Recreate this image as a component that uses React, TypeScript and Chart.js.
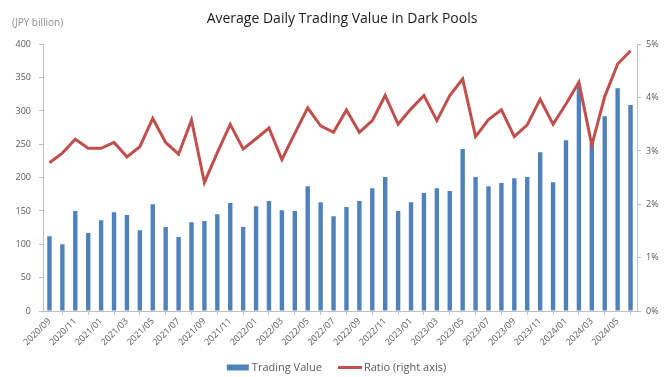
import React, { useEffect, useRef } from "react";
import { Chart, registerables } from "chart.js";

Chart.register(...registerables);

const months = [
  "2020/09", "2020/10", "2020/11", "2020/12",
  "2021/01", "2021/02", "2021/03", "2021/04", "2021/05", "2021/06",
  "2021/07", "2021/08", "2021/09", "2021/10", "2021/11", "2021/12",
  "2022/01", "2022/02", "2022/03", "2022/04", "2022/05", "2022/06",
  "2022/07", "2022/08", "2022/09", "2022/10", "2022/11", "2022/12",
  "2023/01", "2023/02", "2023/03", "2023/04", "2023/05", "2023/06",
  "2023/07", "2023/08", "2023/09", "2023/10", "2023/11", "2023/12",
  "2024/01", "2024/02", "2024/03", "2024/04", "2024/05", "2024/06",
];

const tradingValue = [
  112, 100, 150, 117,
  136, 148, 144, 121, 160, 126,
  111, 133, 135, 145, 162, 126,
  157, 165, 151, 150, 187, 163,
  142, 156, 165, 184, 201, 150,
  163, 177, 184, 180, 243, 201,
  187, 192, 199, 201, 238, 193,
  256, 336, 252, 292, 334, 309,
];

// percent
const ratio = [
  2.78, 2.96, 3.22, 3.05,
  3.05, 3.16, 2.89, 3.08, 3.61, 3.16,
  2.94, 3.58, 2.41, 2.97, 3.5, 3.04,
  3.23, 3.43, 2.84, 3.33, 3.81, 3.47,
  3.35, 3.77, 3.35, 3.57, 4.04, 3.5,
  3.79, 4.04, 3.57, 4.04, 4.35, 3.27,
  3.59, 3.77, 3.27, 3.49, 3.97, 3.5,
  3.88, 4.29, 3.11, 4.02, 4.63, 4.88,
];

const TITLE = "Average Daily Trading Value in Dark Pools";
const UNIT_LABEL = "(JPY billion)";
const BAR_LABEL = "Trading Value";
const LINE_LABEL = "Ratio (right axis)";

const BLUE = "#4F81BD";
const RED = "#C0504D";
const AXIS_GRAY = "#BFBFBF";
const TICK_COLOR = "#595959";
const FONT = '"Open Sans", "Noto Sans", sans-serif';

const overlayPlugin = {
  id: "overlay",
  afterDraw(chart: any) {
    const ctx = chart.ctx as CanvasRenderingContext2D;
    const area = chart.chartArea;
    ctx.save();
    // title
    ctx.font = `14px ${FONT}`;
    ctx.fillStyle = "#1a1a1a";
    ctx.textAlign = "center";
    ctx.textBaseline = "middle";
    ctx.fillText(TITLE, (area.left + area.right) / 2 + 2, 19);
    // unit label
    ctx.font = `10px ${FONT}`;
    ctx.fillStyle = "#8C8C8C";
    ctx.textAlign = "left";
    ctx.fillText(UNIT_LABEL, 12, 23);
    // legend
    const ds = chart.data.datasets;
    ctx.font = `11px ${FONT}`;
    const barDs = ds.find((d: any) => d.type === "bar");
    const lineDs = ds.find((d: any) => d.type === "line");
    const t1 = barDs.label;
    const t2 = lineDs.label;
    const w1 = ctx.measureText(t1).width;
    const w2 = ctx.measureText(t2).width;
    const boxW = 22, gap1 = 3, spacing = 16, lineW = 24, gap2 = 2;
    const total = boxW + gap1 + w1 + spacing + lineW + gap2 + w2;
    let x = chart.width / 2 + 2 - total / 2;
    const y = 367.5;
    ctx.fillStyle = barDs.backgroundColor;
    ctx.fillRect(x, y - 3, boxW, 6);
    x += boxW + gap1;
    ctx.fillStyle = TICK_COLOR;
    ctx.textBaseline = "middle";
    ctx.fillText(t1, x, y);
    x += w1 + spacing;
    ctx.strokeStyle = lineDs.borderColor;
    ctx.lineWidth = 3;
    ctx.beginPath();
    ctx.moveTo(x, y);
    ctx.lineTo(x + lineW, y);
    ctx.stroke();
    x += lineW + gap2;
    ctx.fillText(t2, x, y);
    ctx.restore();
  },
};

export default function App() {
  const canvasRef = useRef<HTMLCanvasElement | null>(null);

  useEffect(() => {
    const canvas = canvasRef.current;
    if (!canvas) return;
    const chart = new Chart(canvas, {
      type: "bar",
      data: {
        labels: months,
        datasets: [
          {
            type: "line",
            label: LINE_LABEL,
            data: ratio,
            yAxisID: "y1",
            borderColor: RED,
            backgroundColor: RED,
            borderWidth: 3,
            pointRadius: 0,
            tension: 0,
            order: 0,
          } as any,
          {
            type: "bar",
            label: BAR_LABEL,
            data: tradingValue,
            yAxisID: "y",
            backgroundColor: BLUE,
            borderWidth: 0,
            barPercentage: 0.34,
            categoryPercentage: 1,
            order: 1,
          } as any,
        ],
      },
      options: {
        responsive: false,
        animation: false,
        devicePixelRatio: 1,
        layout: { padding: { top: 44.3, bottom: 21, left: 0, right: 0 } },
        plugins: {
          legend: { display: false },
          title: { display: false },
          tooltip: { enabled: false },
        },
        scales: {
          x: {
            offset: true,
            grid: {
              offset: true,
              drawOnChartArea: false,
              drawTicks: true,
              tickLength: 4,
              color: AXIS_GRAY,
            },
            border: { display: true, color: AXIS_GRAY, width: 1 },
            ticks: {
              autoSkip: false,
              maxRotation: 45,
              minRotation: 45,
              padding: 1,
              color: TICK_COLOR,
              font: { family: FONT, size: 9 },
              callback: function (this: any, _v: any, i: number) {
                return i % 2 === 0 ? months[i] : null;
              },
            },
            afterFit: (scale: any) => {
              scale.height = 45;
            },
          },
          y: {
            position: "left",
            min: 0,
            max: 400,
            grid: {
              drawOnChartArea: false,
              drawTicks: true,
              tickLength: 4,
              color: AXIS_GRAY,
            },
            border: { display: true, color: AXIS_GRAY, width: 1 },
            ticks: {
              stepSize: 50,
              padding: 8,
              color: TICK_COLOR,
              font: { family: FONT, size: 9 },
            },
            afterFit: (scale: any) => {
              scale.width = 43;
            },
          },
          y1: {
            position: "right",
            min: 0,
            max: 5,
            grid: {
              drawOnChartArea: false,
              drawTicks: true,
              tickLength: 4,
              color: AXIS_GRAY,
            },
            border: { display: true, color: AXIS_GRAY, width: 1 },
            ticks: {
              stepSize: 1,
              padding: 5,
              color: TICK_COLOR,
              font: { family: FONT, size: 9 },
              callback: (v: any) => `${v}%`,
            },
            afterFit: (scale: any) => {
              scale.width = 32;
            },
          },
        },
      },
      plugins: [overlayPlugin],
    });
    return () => chart.destroy();
  }, []);

  return (
    <div style={{ position: "fixed", left: 0, top: 0, width: 669, height: 377, background: "#fff" }}>
      <canvas ref={canvasRef} width={669} height={377} style={{ display: "block" }} />
    </div>
  );
}
